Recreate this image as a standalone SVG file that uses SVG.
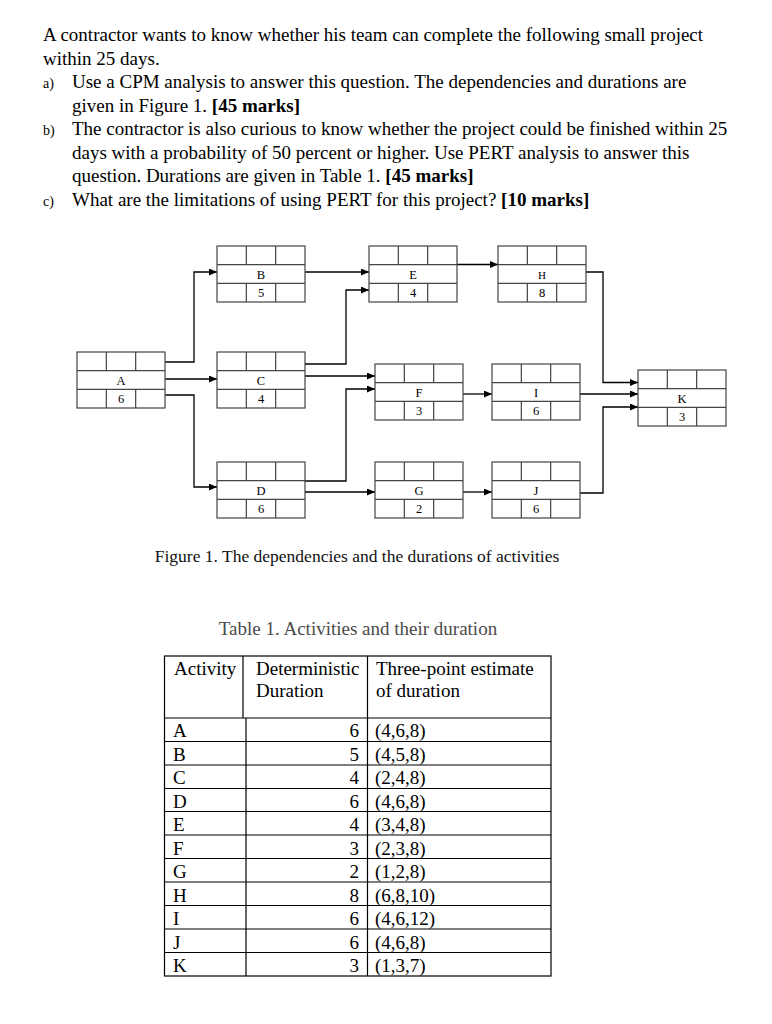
<svg xmlns="http://www.w3.org/2000/svg" xmlns:xlink="http://www.w3.org/1999/xlink" width="772" height="1024" viewBox="0 0 772 1024">
<style>
  .t { font-family: "Liberation Serif", "Times New Roman", serif; fill: #000; }
  .body { font-size: 19px; }
  .lab { font-size: 14px; }
  .b { font-weight: bold; }
  .nd { font-family: "Liberation Serif", "Times New Roman", serif; font-size: 12.5px; fill: #000; text-anchor: middle; }
  .grid { fill: #fff; stroke: #444; stroke-width: 1.2; }
  .gl { stroke: #444; stroke-width: 1.2; fill: none; }
  .conn { fill: none; stroke: #000; stroke-width: 1.3; }
  .tb { fill: none; stroke: #000; stroke-width: 1.2; }
  .tt { font-family: "Liberation Serif", "Times New Roman", serif; font-size: 19px; fill: #000; }
</style>
<defs>
  <marker id="ah" markerUnits="userSpaceOnUse" markerWidth="9" markerHeight="8" refX="8" refY="3.5" orient="auto">
    <path d="M0,0 L8,3.5 L0,7 z" fill="#000"/>
  </marker>
  <g id="box">
    <rect x="0" y="0" width="88" height="56" class="grid"/>
    <path class="gl" d="M0,18.67 H88 M0,37.33 H88 M29.33,0 V18.67 M58.67,0 V18.67 M29.33,37.33 V56 M58.67,37.33 V56"/>
  </g>
</defs>
<rect width="772" height="1024" fill="#fff"/>

<g id="question">
  <text class="t body" x="43" y="41">A contractor wants to know whether his team can complete the following small project</text>
  <text class="t body" x="43" y="64.5">within 25 days.</text>
  <text class="t lab" x="43" y="88">a)</text>
  <text class="t body" x="72" y="88">Use a CPM analysis to answer this question. The dependencies and durations are</text>
  <text class="t body" x="72" y="111.5">given in Figure 1. <tspan class="b">[45 marks]</tspan></text>
  <text class="t lab" x="43" y="135">b)</text>
  <text class="t body" x="72" y="135">The contractor is also curious to know whether the project could be finished within 25</text>
  <text class="t body" x="72" y="158.5">days with a probability of 50 percent or higher. Use PERT analysis to answer this</text>
  <text class="t body" x="72" y="182">question. Durations are given in Table 1. <tspan class="b">[45 marks]</tspan></text>
  <text class="t lab" x="43" y="205.5">c)</text>
  <text class="t body" x="72" y="205.5">What are the limitations of using PERT for this project? <tspan class="b">[10 marks]</tspan></text>
</g>

<g id="connectors">
  <path class="conn" marker-end="url(#ah)" d="M165,362 H194 V272 H217"/>
  <path class="conn" marker-end="url(#ah)" d="M165,379 H217"/>
  <path class="conn" marker-end="url(#ah)" d="M165,395 H194 V487 H217"/>
  <path class="conn" marker-end="url(#ah)" d="M305,272 H369"/>
  <path class="conn" marker-end="url(#ah)" d="M305,364 H346 V290 H369"/>
  <path class="conn" marker-end="url(#ah)" d="M305,376 H375"/>
  <path class="conn" marker-end="url(#ah)" d="M305,481 H346 V389 H375"/>
  <path class="conn" marker-end="url(#ah)" d="M305,492 H375"/>
  <path class="conn" marker-end="url(#ah)" d="M457,264.5 H498"/>
  <path class="conn" marker-end="url(#ah)" d="M463,394 H492"/>
  <path class="conn" marker-end="url(#ah)" d="M463,492 H492"/>
  <path class="conn" marker-end="url(#ah)" d="M586,272 H603 V382.5 H638"/>
  <path class="conn" marker-end="url(#ah)" d="M580,394 H638"/>
  <path class="conn" marker-end="url(#ah)" d="M580,493 H603 V407 H638"/>
</g>

<g id="node-A"><use xlink:href="#box" x="77" y="352"/><text class="nd" x="121" y="384.5">A</text><text class="nd" x="121" y="403">6</text></g>
<g id="node-B"><use xlink:href="#box" x="217" y="246"/><text class="nd" x="261" y="278.5">B</text><text class="nd" x="261" y="297">5</text></g>
<g id="node-C"><use xlink:href="#box" x="217" y="352"/><text class="nd" x="261" y="384.5">C</text><text class="nd" x="261" y="403">4</text></g>
<g id="node-D"><use xlink:href="#box" x="217" y="462"/><text class="nd" x="261" y="494.5">D</text><text class="nd" x="261" y="513">6</text></g>
<g id="node-E"><use xlink:href="#box" x="369" y="246"/><text class="nd" x="413" y="278.5">E</text><text class="nd" x="413" y="297">4</text></g>
<g id="node-F"><use xlink:href="#box" x="375" y="364"/><text class="nd" x="419" y="396.5">F</text><text class="nd" x="419" y="415">3</text></g>
<g id="node-G"><use xlink:href="#box" x="375" y="462"/><text class="nd" x="419" y="494.5">G</text><text class="nd" x="419" y="513">2</text></g>
<g id="node-H"><use xlink:href="#box" x="498" y="246"/><text class="nd" x="542" y="278.5" style="font-size:11px">H</text><text class="nd" x="542" y="297">8</text></g>
<g id="node-I"><use xlink:href="#box" x="492" y="364"/><text class="nd" x="536" y="396.5">I</text><text class="nd" x="536" y="415">6</text></g>
<g id="node-J"><use xlink:href="#box" x="492" y="462"/><text class="nd" x="536" y="494.5">J</text><text class="nd" x="536" y="513">6</text></g>
<g id="node-K"><use xlink:href="#box" x="638" y="370"/><text class="nd" x="682" y="402.5">K</text><text class="nd" x="682" y="421">3</text></g>

<g id="captions">
  <text class="t" x="357" y="561.5" text-anchor="middle" style="font-size:17.5px;fill:#111">Figure 1. The dependencies and the durations of activities</text>
  <text class="t" x="358" y="635" text-anchor="middle" style="font-size:19px;fill:#4a4a4a">Table 1. Activities and their duration</text>
</g>

<g id="table">
  <rect class="tb" x="164.5" y="656" width="386.5" height="320"/>
  <path class="tb" d="M164.5,718 H551 M243,656 V718 M246,718 V976 M367.5,656 V976"/>
  <path class="tb" d="M164.5,741.5 H551 M164.5,765 H551 M164.5,788.5 H551 M164.5,811.5 H551 M164.5,835 H551 M164.5,858.5 H551 M164.5,882 H551 M164.5,905.5 H551 M164.5,929 H551 M164.5,952.5 H551"/>
  <text class="tt" x="174" y="675">Activity</text>
  <text class="tt" x="256" y="675">Deterministic</text>
  <text class="tt" x="256" y="697">Duration</text>
  <text class="tt" x="376" y="675">Three-point estimate</text>
  <text class="tt" x="376" y="697">of duration</text>
  <g>
    <text class="tt" x="173" y="737">A</text><text class="tt" x="359" y="737" text-anchor="end">6</text><text class="tt" x="375" y="737">(4,6,8)</text>
    <text class="tt" x="173" y="760.5">B</text><text class="tt" x="359" y="760.5" text-anchor="end">5</text><text class="tt" x="375" y="760.5">(4,5,8)</text>
    <text class="tt" x="173" y="784">C</text><text class="tt" x="359" y="784" text-anchor="end">4</text><text class="tt" x="375" y="784">(2,4,8)</text>
    <text class="tt" x="173" y="807.5">D</text><text class="tt" x="359" y="807.5" text-anchor="end">6</text><text class="tt" x="375" y="807.5">(4,6,8)</text>
    <text class="tt" x="173" y="831">E</text><text class="tt" x="359" y="831" text-anchor="end">4</text><text class="tt" x="375" y="831">(3,4,8)</text>
    <text class="tt" x="173" y="854.5">F</text><text class="tt" x="359" y="854.5" text-anchor="end">3</text><text class="tt" x="375" y="854.5">(2,3,8)</text>
    <text class="tt" x="173" y="878">G</text><text class="tt" x="359" y="878" text-anchor="end">2</text><text class="tt" x="375" y="878">(1,2,8)</text>
    <text class="tt" x="173" y="901.5">H</text><text class="tt" x="359" y="901.5" text-anchor="end">8</text><text class="tt" x="375" y="901.5">(6,8,10)</text>
    <text class="tt" x="173" y="925">I</text><text class="tt" x="359" y="925" text-anchor="end">6</text><text class="tt" x="375" y="925">(4,6,12)</text>
    <text class="tt" x="173" y="948.5">J</text><text class="tt" x="359" y="948.5" text-anchor="end">6</text><text class="tt" x="375" y="948.5">(4,6,8)</text>
    <text class="tt" x="173" y="972">K</text><text class="tt" x="359" y="972" text-anchor="end">3</text><text class="tt" x="375" y="972">(1,3,7)</text>
  </g>
</g>
</svg>
